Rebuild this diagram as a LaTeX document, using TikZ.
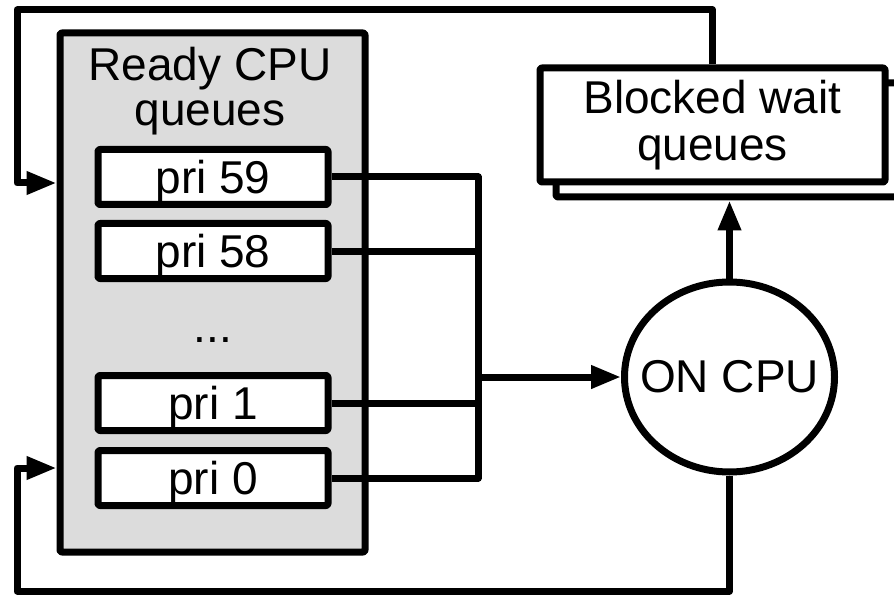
\documentclass[tikz,border=0pt]{standalone}
\usepackage{fontspec}
\setmainfont{Liberation Sans}
\usetikzlibrary{arrows.meta,shapes.geometric}
\definecolor{queuegray}{RGB}{220,220,220}
\tikzset{
  box/.style={draw, rounded corners=2pt, inner sep=0pt},
  queue/.style={box, fill=white, minimum width=230pt, minimum height=55pt,
                text height=33pt, text depth=0pt},
  waitbox/.style={box, fill=white, minimum width=345pt, minimum height=114pt},
  arrow/.style={-{Triangle[length=30pt,width=22pt]}}
}
\begin{document}
\begin{tikzpicture}[x=1pt, y=-1pt, line width=7pt, line join=round,
                    font=\fontsize{46}{45}\selectfont]
  \clip (0,0) rectangle (894,596);

  % ready queues
  \node[box, fill=queuegray, minimum width=305pt, minimum height=519pt] (ready) at (212.5,292.5) {};
  \node[align=center, inner sep=0pt] (readylabel) at (210,91) {Ready CPU\\queues};
  \node[queue] (p59) at (213,177) {pri 59};
  \node[queue] (p58) at (213,251) {pri 58};
  \node[anchor=base, inner sep=0pt] (dots) at (213,342) {...};
  \node[queue] (p1) at (213,403) {pri 1};
  \node[queue] (p0) at (213,478) {pri 0};

  % running state: a tight ellipse round its label
  \node[draw, ellipse, minimum width=210pt, minimum height=190pt,
        inner xsep=-15.5pt, inner ysep=0pt] (cpu) at (729.5,377) {ON CPU};

  % wait queues (stacked)
  \node[waitbox] (blockedback) at (728.5,140) {};
  \node[waitbox, align=center, font=\fontsize{46}{47}\selectfont] (blocked) at (712.5,125) {Blocked wait\\queues};

  % routing points
  \coordinate (bus) at (478,377);
  \coordinate (topleft) at (17,10);
  \coordinate (botleft) at (17,591);
  \coordinate (inA) at (0,183);
  \coordinate (inB) at (0,468);

  % dispatch from the queues
  \draw (p59.east) -| (bus |- p0.east) -- (p0.east);
  \draw (p58.east) -- (p58.east -| bus);
  \draw (p1.east) -- (p1.east -| bus);
  \draw[arrow] (bus) -- (cpu.west);

  % blocking and returning
  \draw[arrow] (cpu.north) -- (cpu.north |- blockedback.south);
  \draw[arrow] (blocked.north) |- (topleft) |- (ready.west |- inA);
  \draw[arrow] (cpu.south) |- (botleft) |- (ready.west |- inB);
\end{tikzpicture}
\end{document}
